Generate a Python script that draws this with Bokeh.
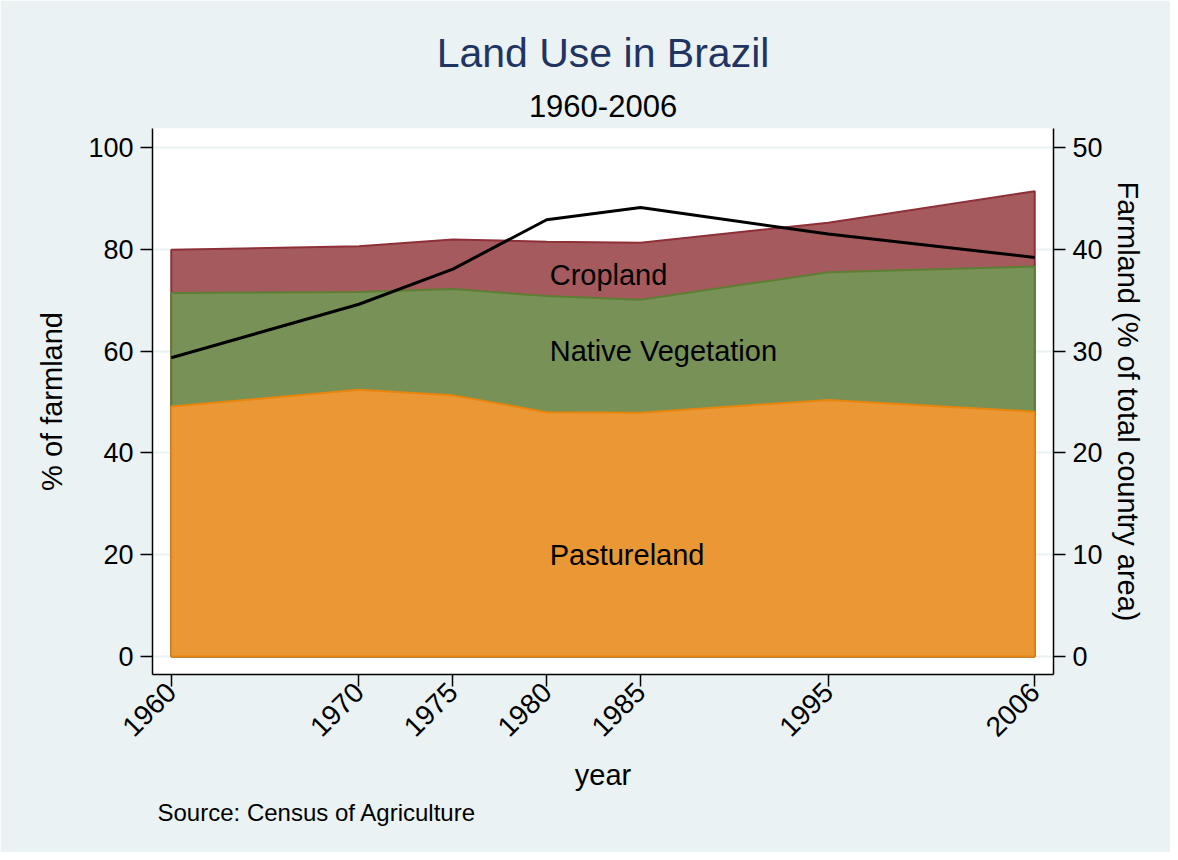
import math
from bokeh.plotting import figure
from bokeh.models import Range1d, LinearAxis, FixedTicker, Title, ColumnDataSource
from bokeh.core.properties import value
from bokeh.embed import file_html
from bokeh.resources import INLINE

# ---- data ----
years = [1960, 1970, 1975, 1980, 1985, 1995, 2006]
pastureland = [49.1, 52.4, 51.3, 48.0, 47.9, 50.4, 48.1]
native_vegetation = [22.3, 19.2, 20.9, 22.8, 22.2, 25.1, 28.5]
cropland = [8.5, 9.0, 9.7, 10.7, 11.2, 9.7, 14.8]
farmland_pct_country = [29.35, 34.6, 38.05, 42.9, 44.1, 41.5, 39.2]

left_ticks = [0, 20, 40, 60, 80, 100]
right_ticks = [0, 10, 20, 30, 40, 50]

label_texts = ["Cropland", "Native Vegetation", "Pastureland"]
label_x = [1980, 1980, 1980]
label_y = [75, 60, 20]

FONT = "Liberation Sans"
BG = "#eaf2f3"

# cumulative tops (Stata-style overlapping areas from zero)
top_pasture = list(pastureland)
top_native = [a + b for a, b in zip(pastureland, native_vegetation)]
top_crop = [a + b + c for a, b, c in zip(pastureland, native_vegetation, cropland)]

p = figure(frame_width=901, frame_height=546,
           min_border_left=152, min_border_right=117,
           min_border_top=128, min_border_bottom=178,
           x_range=Range1d(1959, 2007), y_range=Range1d(-3.54, 103.73),
           output_backend="svg", toolbar_location=None, title=None)
p.extra_y_ranges = {"right": Range1d(-1.77, 51.865)}

p.border_fill_color = BG
p.background_fill_color = "white"
p.outline_line_color = None

def area(top, fill, line):
    xs = years + years[::-1]
    ys = top + [0] * len(years)
    p.patch(xs, ys, fill_color=fill, line_color=line, line_width=2)

area(top_crop, "#a55b5e", "#8f2f38")
area(top_native, "#789157", "#5c7f33")
area(top_pasture, "#ea9736", "#e8850c")

p.line(years, farmland_pct_country, y_range_name="right", line_color="black", line_width=3)

src = ColumnDataSource(dict(x=label_x, y=label_y, t=label_texts))
p.text(x="x", y="y", text="t", source=src, text_align="left", text_baseline="middle",
       text_font=value(FONT), text_font_size="29px", text_color="black", x_offset=3)

# grid
p.xgrid.visible = False
p.ygrid.ticker = FixedTicker(ticks=left_ticks)
p.ygrid.grid_line_color = BG
p.ygrid.grid_line_width = 2

def style_axis(ax):
    ax.axis_line_color = "black"
    ax.axis_line_width = 1.5
    ax.major_tick_line_color = "black"
    ax.major_tick_line_width = 1.5
    ax.major_tick_out = 12
    ax.major_tick_in = 0
    ax.minor_tick_line_color = None
    ax.major_label_text_font = FONT
    ax.major_label_text_font_size = "27px"
    ax.major_label_text_color = "black"
    ax.axis_label_text_font = FONT
    ax.axis_label_text_font_size = "29px"
    ax.axis_label_text_font_style = "normal"
    ax.axis_label_text_color = "black"

xa = p.xaxis[0]
xa.ticker = FixedTicker(ticks=years)
xa.axis_label = "year"
xa.major_label_orientation = math.pi / 4
xa.major_label_standoff = 1
xa.axis_label_standoff = 11
style_axis(xa)
xa.major_label_text_font_size = "28px"

ya = p.yaxis[0]
ya.ticker = FixedTicker(ticks=left_ticks)
ya.axis_label = "% of farmland"
ya.major_label_standoff = 7
ya.axis_label_standoff = 17
style_axis(ya)

ra = LinearAxis(y_range_name="right", ticker=FixedTicker(ticks=right_ticks),
                axis_label="Farmland (% of total country area)")
ra.major_label_standoff = 7
ra.axis_label_standoff = 6
style_axis(ra)
p.add_layout(ra, "right")

sub = Title(text="1960-2006", align="center", text_font=FONT, text_font_size="31px",
            text_font_style="normal", text_color="black", standoff=23)
p.add_layout(sub, "above")
main = Title(text="Land Use in Brazil", align="center", text_font=FONT, text_font_size="41px",
             text_font_style="normal", text_color="#1f3461", standoff=12)
p.add_layout(main, "above")

source = Title(text="Source: Census of Agriculture", align="left", offset=5,
               text_font=FONT, text_font_size="24px", text_font_style="normal",
               text_color="black", standoff=6)
p.add_layout(source, "below")

open("out.html", "w").write(file_html(p, INLINE))
